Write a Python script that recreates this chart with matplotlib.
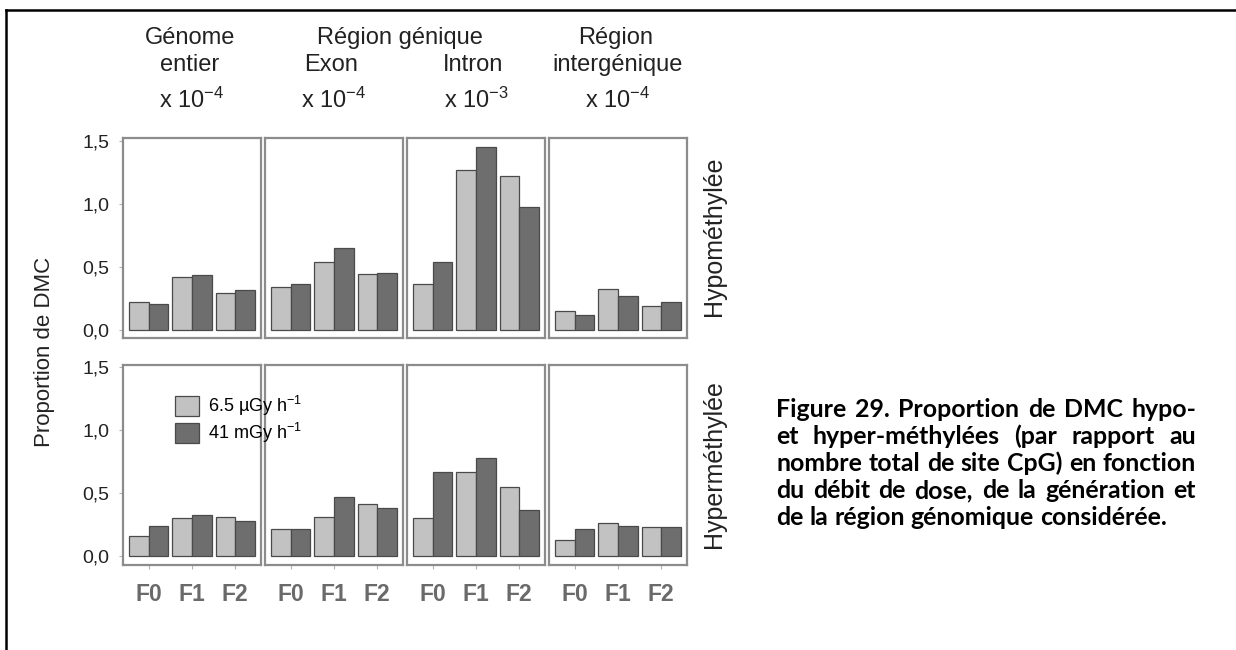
import matplotlib
matplotlib.use("Agg")
import matplotlib.pyplot as plt
import numpy as np
from matplotlib.lines import Line2D

plt.rcParams['font.family'] = ['Liberation Sans', 'DejaVu Sans']
plt.rcParams['mathtext.fontset'] = 'custom'
plt.rcParams['mathtext.rm'] = 'Liberation Sans'
plt.rcParams['mathtext.it'] = 'Liberation Sans:italic'
plt.rcParams['mathtext.bf'] = 'Liberation Sans:bold'

# ---------------- data ----------------
generations = ["F0", "F1", "F2"]
scales = ["x 10$^{-4}$", "x 10$^{-4}$", "x 10$^{-3}$", "x 10$^{-4}$"]
doses = ["6.5 µGy h$^{-1}$", "41 mGy h$^{-1}$"]
row_labels = ["Hypométhylée", "Hyperméthylée"]
yticks = [0.0, 0.5, 1.0, 1.5]
ytick_labels = ["0,0", "0,5", "1,0", "1,5"]

# columns: Génome entier, Exon, Intron, Région intergénique
hypo_low = [[0.22, 0.42, 0.29], [0.34, 0.54, 0.44], [0.36, 1.27, 1.22], [0.15, 0.32, 0.19]]
hypo_high = [[0.20, 0.43, 0.315], [0.365, 0.65, 0.45], [0.54, 1.45, 0.97], [0.12, 0.265, 0.22]]
hyper_low = [[0.16, 0.30, 0.31], [0.215, 0.31, 0.415], [0.30, 0.67, 0.55], [0.125, 0.265, 0.235]]
hyper_high = [[0.24, 0.33, 0.28], [0.215, 0.47, 0.38], [0.67, 0.78, 0.365], [0.215, 0.24, 0.23]]

caption_lines = [
    "Figure 29. Proportion de DMC hypo-",
    "et hyper-méthylées (par rapport au",
    "nombre total de site CpG) en fonction",
    "du débit de dose, de la génération et",
    "de la région génomique considérée.",
]

# ---------------- layout ----------------
W, H = 1236, 650
fig = plt.figure(figsize=(W / 100, H / 100), dpi=100)


def fx(x):
    return x / W


def fy(y):
    return 1 - y / H


gs = fig.add_gridspec(2, 4, left=fx(123), right=fx(687), top=fy(138), bottom=fy(565),
                      wspace=0.029, hspace=0.13)

light = "#c2c2c2"
dark = "#6e6e6e"
edge = "#4a4a4a"
spine_c = "#8c8c8c"
text_c = "#222222"
bw = 0.455
x = np.arange(1, 4)

data_rows = [(hypo_low, hypo_high), (hyper_low, hyper_high)]
axes = []
handles = None
for r, (lo, hi) in enumerate(data_rows):
    for c in range(4):
        ax = fig.add_subplot(gs[r, c])
        axes.append(ax)
        b1 = ax.bar(x, lo[c], width=-bw, align='edge', color=light, edgecolor=edge, linewidth=0.9)
        b2 = ax.bar(x, hi[c], width=bw, align='edge', color=dark, edgecolor=edge, linewidth=0.9)
        if handles is None:
            handles = [b1, b2]
        ax.set_xlim(0.4, 3.6)
        ax.set_ylim(-0.07, 1.52)
        for s in ax.spines.values():
            s.set_color(spine_c)
            s.set_linewidth(1.6)
        ax.set_yticks(yticks)
        ax.set_xticks(x)
        ax.tick_params(axis='both', colors='#b0b0b0', length=3, width=0.8)
        if c == 0:
            ax.set_yticklabels(ytick_labels, fontsize=14, color=text_c)
            ax.tick_params(axis='y', pad=7)
        else:
            ax.tick_params(axis='y', left=False, labelleft=False)
        if r == 1:
            ax.set_xticklabels(generations, fontsize=16.5, fontweight='bold', color='#6a6a6a')
            ax.tick_params(axis='x', pad=10)
        else:
            ax.tick_params(axis='x', bottom=False, labelbottom=False)

fig.legend(handles=handles, labels=doses, loc='upper left',
           bbox_to_anchor=(fx(175), fy(394)), bbox_transform=fig.transFigure,
           frameon=False, fontsize=13, handlelength=1.33, handleheight=1.3,
           handletextpad=0.5, labelspacing=0.15, borderpad=0, borderaxespad=0)

# headers
hkw = dict(ha='center', va='center', fontsize=17, color=text_c)
fig.text(fx(190), fy(38), "Génome", **hkw)
fig.text(fx(190), fy(65), "entier", **hkw)
fig.text(fx(400), fy(38), "Région génique", **hkw)
fig.text(fx(331), fy(65), "Exon", **hkw)
fig.text(fx(473), fy(65), "Intron", **hkw)
fig.text(fx(616), fy(38), "Région", **hkw)
fig.text(fx(618), fy(65), "intergénique", **hkw)
for c, s in enumerate(scales):
    pos = axes[c].get_position()
    fig.text(pos.x0 + pos.width / 2, fy(100), s, **hkw)

# row labels and y label
fig.text(fx(714), fy(236), row_labels[0], rotation=90, ha='center', va='center',
         fontsize=18, color=text_c)
fig.text(fx(714), fy(464), row_labels[1], rotation=90, ha='center', va='center',
         fontsize=18, color=text_c)
fig.text(fx(45), fy(352), "Proportion de DMC", rotation=90, ha='center', va='center',
         fontsize=16, color=text_c)

# frame
fig.add_artist(Line2D([fx(6), fx(6)], [0, fy(10)], transform=fig.transFigure, color='black', lw=1.8))
fig.add_artist(Line2D([fx(6), 1], [fy(10), fy(10)], transform=fig.transFigure, color='black', lw=1.8))

# caption, justified; font size fitted so that the tightest line fills the block
cap_left, cap_right = 776, 1196
base0, lstep = 417, 27
renderer = fig.canvas.get_renderer()
cap_family = ['Lato', 'DejaVu Sans']
probe = fig.text(0, 0, caption_lines[2], family=cap_family, fontweight='bold', fontsize=10)
nat = probe.get_window_extent(renderer).width
probe.remove()
cap_size = 10 * (cap_right - cap_left) / nat * 0.995
cap_kw = dict(family=cap_family, fontweight='bold', fontsize=cap_size, color='black',
              va='baseline', ha='left')
for i, line in enumerate(caption_lines):
    words = line.split(" ")
    y = fy(base0 + i * lstep)
    texts = [fig.text(0, y, w, **cap_kw) for w in words]
    widths = [t.get_window_extent(renderer).width for t in texts]
    if i < len(caption_lines) - 1 and len(words) > 1:
        gap = (cap_right - cap_left - sum(widths)) / (len(words) - 1)
    else:
        sp = fig.text(0, y, "a a", **cap_kw)
        sp2 = fig.text(0, y, "aa", **cap_kw)
        gap = sp.get_window_extent(renderer).width - sp2.get_window_extent(renderer).width
        sp.remove()
        sp2.remove()
    xpos = cap_left
    for t, w in zip(texts, widths):
        t.set_x(fx(xpos))
        xpos += w + gap

fig.savefig("out.png", dpi=100)
